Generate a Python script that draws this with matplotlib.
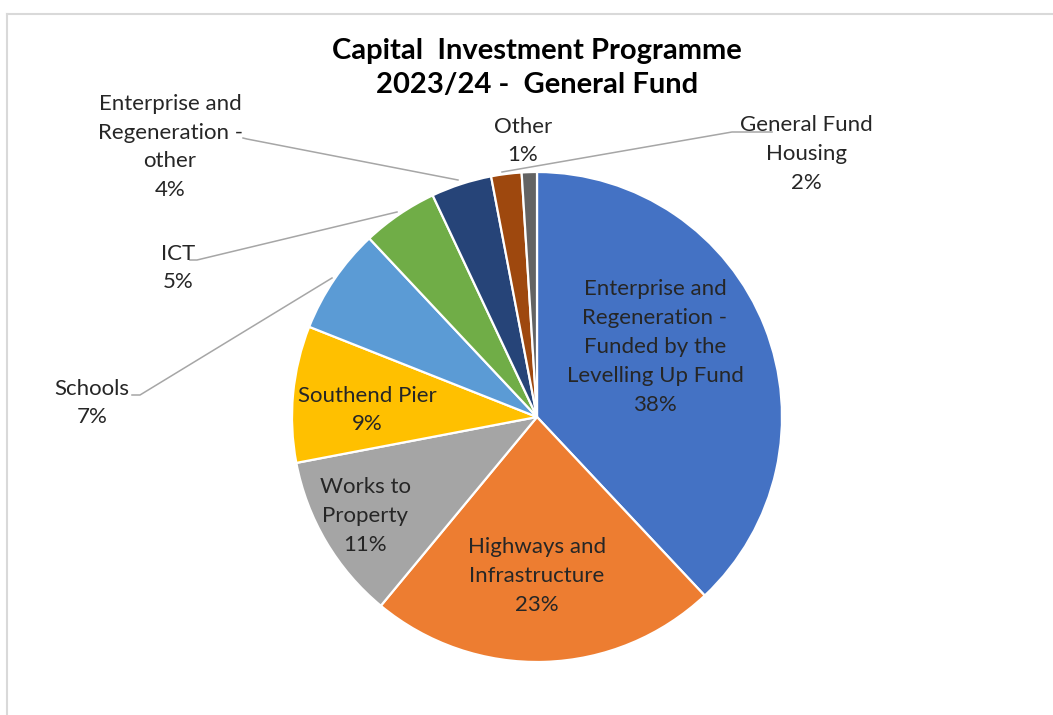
import matplotlib
matplotlib.use("Agg")
import matplotlib.pyplot as plt
from matplotlib.lines import Line2D

categories = [
    "Enterprise and\nRegeneration -\nFunded by the\nLevelling Up Fund",
    "Highways and\nInfrastructure",
    "Works to\nProperty",
    "Southend Pier",
    "Schools",
    "ICT",
    "Enterprise and\nRegeneration -\nother",
    "General Fund\nHousing",
    "Other",
]
values = [38, 23, 11, 9, 7, 5, 4, 2, 1]
pct_labels = ["38%", "23%", "11%", "9%", "7%", "5%", "4%", "2%", "1%"]
colors = ["#4472C4", "#ED7D31", "#A5A5A5", "#FFC000", "#5B9BD5",
          "#70AD47", "#264478", "#9E480E", "#636363"]

W, H = 1053, 715
fig = plt.figure(figsize=(W / 100, H / 100), dpi=100)
ax = fig.add_axes([0, 0, 1, 1])

def Y(y):
    return H - y

ax.pie(values, colors=colors, startangle=90, counterclock=False,
       center=(537, Y(417)), radius=245,
       wedgeprops=dict(edgecolor="white", linewidth=1.6))

ax.set_xlim(0, W)
ax.set_ylim(0, H)
ax.set_aspect("equal")
ax.axis("off")

# border
ax.add_line(Line2D([7, W], [Y(14), Y(14)], color="#d9d9d9", lw=1.5))
ax.add_line(Line2D([7, 7], [Y(14), 0], color="#d9d9d9", lw=1.5))

font = "Lato"
fs = 16
tc = "#262626"

label_pos = [
    (655, 347), (537, 576), (365, 516), (367, 410),
    (92, 403), (178, 268), (170, 147), (806, 154), (523, 141),
]
for cat, pct, (x, y) in zip(categories, pct_labels, label_pos):
    ax.text(x, Y(y), cat + "\n" + pct, ha="center", va="center",
            fontsize=fs, family=font, color=tc, linespacing=1.55)

# leader lines
leaders = [
    [(132, 395), (140, 395), (332, 278)],
    [(190, 260), (197, 260), (397, 212)],
    [(243, 138), (247, 139), (458, 180)],
    [(772, 132), (732, 132), (502, 172)],
]
for pts in leaders:
    xs = [p[0] for p in pts]
    ys = [Y(p[1]) for p in pts]
    ax.add_line(Line2D(xs, ys, color="#a6a6a6", lw=1.1))

ax.text(537, Y(68), "Capital  Investment Programme\n2023/24 -  General Fund",
        ha="center", va="center", fontsize=21, family=font, weight="bold",
        color="black", linespacing=1.42)

fig.savefig("out.png", dpi=100, facecolor="white")
